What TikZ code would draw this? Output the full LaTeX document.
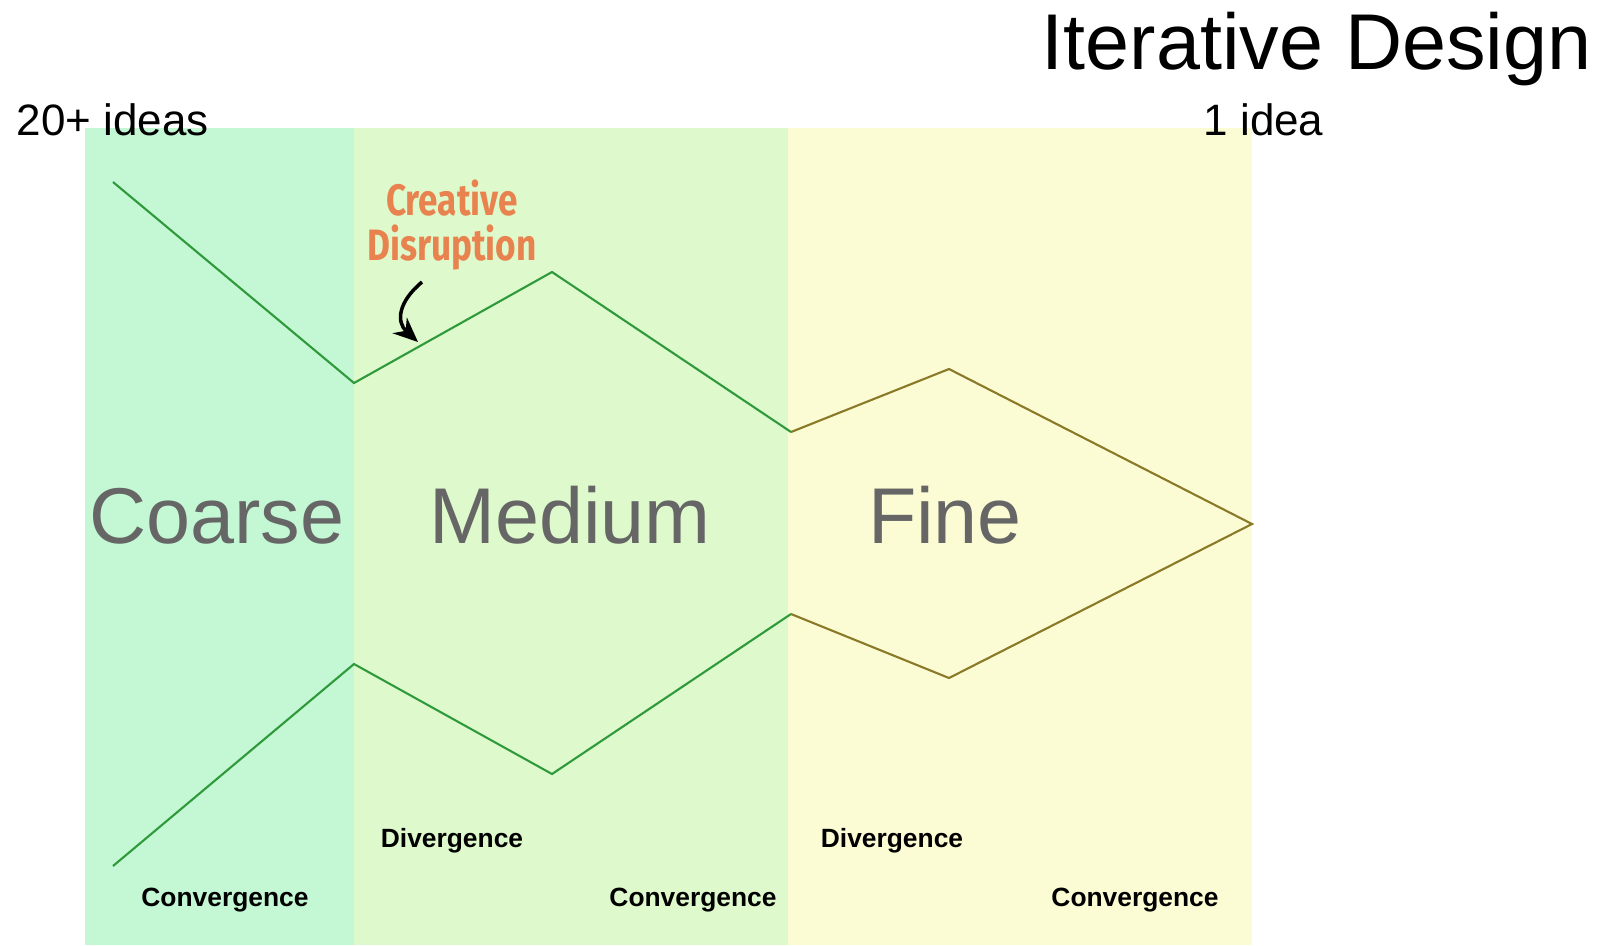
\documentclass[tikz,border=0pt]{standalone}
\usepackage{fontspec}
\setmainfont{Liberation Sans}
\newfontfamily\handfont{Fira Sans}
\usetikzlibrary{arrows.meta}

\definecolor{coarsebg}{HTML}{C4F8D4}
\definecolor{mediumbg}{HTML}{DEFACC}
\definecolor{finebg}{HTML}{FCFCD4}
\definecolor{pathgreen}{HTML}{2F9A3C}
\definecolor{patholive}{HTML}{8A7A28}
\definecolor{labelgray}{HTML}{666666}
\definecolor{noteorange}{HTML}{E8824E}

\begin{document}
\begin{tikzpicture}[x=0.01cm,y=-0.01cm,
		phase/.style={text=labelgray,font=\fontsize{22.5}{26}\selectfont,inner sep=0,anchor=base},
		count/.style={font=\fontsize{12.5}{15}\selectfont,inner sep=0,anchor=base west},
		mode/.style={font=\fontsize{7.5}{9}\selectfont\bfseries,inner sep=0},
		funnel/.style={line width=0.6pt,line join=miter}]
		\useasboundingbox (0,0) rectangle (1601,945);
		% bands
		\fill [coarsebg] (85,128) rectangle (354,945);
		\fill [mediumbg] (354,128) rectangle (788,945);
		\fill [finebg] (788,128) rectangle (1252,945);
		% funnel outline
		\draw [funnel,pathgreen] (113,182) -- (354,383) -- (552,272) -- (791,432);
		\draw [funnel,pathgreen] (113,866) -- (354,664) -- (552,774) -- (791,614);
		\draw [funnel,patholive] (791,432) -- (949,369) -- (1252,524) -- (949,678) -- (791,614);
		% headings
		\node [anchor=base west,inner sep=0,font=\fontsize{22.5}{26}\selectfont] (title) at (1041,69) {Iterative Design};
		\node [count] (many) at (16,135) {20+ ideas};
		\node [count] (one) at (1203,135) {1 idea};
		\node [phase] (coarse) at (217,543) {Coarse};
		\node [phase] (medium) at (570,543) {Medium};
		\node [phase] (fine) at (945,543) {Fine};
		% phases
		\node [mode] (div1) at (452,841) {Divergence};
		\node [mode] (div2) at (892,841) {Divergence};
		\node [mode] (conv1) at (225,900) {Convergence};
		\node [mode] (conv2) at (693,900) {Convergence};
		\node [mode] (conv3) at (1135,900) {Convergence};
		% note
		\node [text=noteorange,font=\handfont\bfseries\fontsize{12.5}{12.8}\selectfont,align=center,inner sep=0,xscale=0.8] (note) at (452,225) {Creative\\Disruption};
		\coordinate (tail) at (422,282);
		\coordinate (tip) at (418,342);
		\draw [-{Stealth[length=7pt,width=6pt]},line width=1pt] (tail) .. controls (398,302) and (396,322) .. (tip);
	\end{tikzpicture}
\end{document}
